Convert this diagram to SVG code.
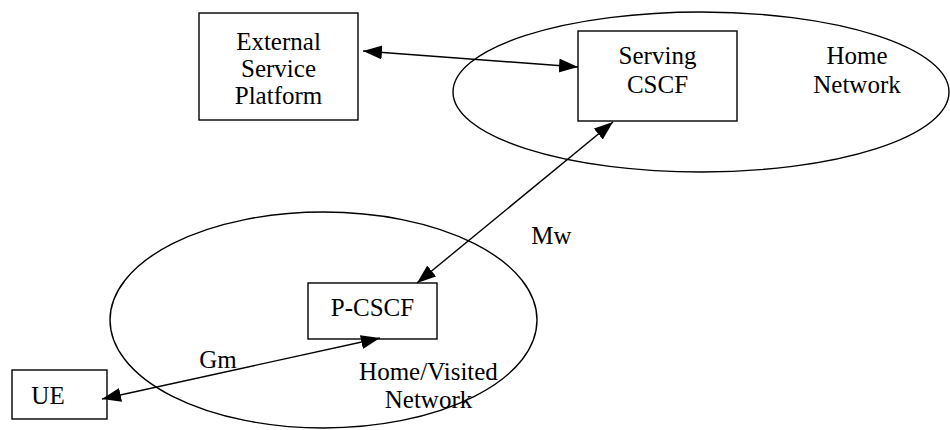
<svg xmlns="http://www.w3.org/2000/svg" width="950" height="430" viewBox="0 0 950 430">
<style>
.t{font-family:"Liberation Serif","Times New Roman",serif;font-size:25px;fill:#000;text-anchor:middle}
.b{fill:#fff;stroke:#000;stroke-width:1.4}
.e{fill:none;stroke:#000;stroke-width:1.4}
.c{stroke:#000;stroke-width:1.4;fill:none;marker-start:url(#ah);marker-end:url(#ah)}
</style>
<defs>
<marker id="ah" markerUnits="userSpaceOnUse" markerWidth="20" markerHeight="15" refX="19" refY="7" orient="auto-start-reverse">
<path d="M0,0 L19,7 L0,14 z" fill="#000"/>
</marker>
</defs>
<g id="home-network">
<ellipse class="e" cx="701" cy="92" rx="248" ry="80"/>
<text class="t" x="857" y="64">Home</text>
<text class="t" x="857" y="93">Network</text>
</g>
<g id="visited-network">
<ellipse class="e" cx="323.5" cy="320" rx="213.5" ry="108"/>
<text class="t" x="428.5" y="380">Home/Visited</text>
<text class="t" x="428.5" y="408">Network</text>
</g>
<g id="external-service-platform">
<rect class="b" x="199" y="13" width="159" height="107"/>
<text class="t" x="278.5" y="50">External</text>
<text class="t" x="278.5" y="77">Service</text>
<text class="t" x="278.5" y="104">Platform</text>
</g>
<g id="serving-cscf">
<rect class="b" x="578" y="31" width="159" height="90"/>
<text class="t" x="657.5" y="64">Serving</text>
<text class="t" x="657.5" y="93">CSCF</text>
</g>
<g id="p-cscf">
<rect class="b" x="308" y="283" width="129" height="56"/>
<text class="t" x="372.5" y="316">P-CSCF</text>
</g>
<g id="ue">
<rect class="b" x="12" y="370" width="95" height="49"/>
<text class="t" x="48" y="404">UE</text>
</g>
<g id="connectors">
<line class="c" x1="363" y1="51" x2="578" y2="67"/>
<line class="c" x1="613" y1="122" x2="417" y2="283"/>
<line class="c" x1="102" y1="399" x2="380" y2="338"/>
<text class="t" x="551.5" y="244">Mw</text>
<text class="t" x="218" y="368">Gm</text>
</g>
</svg>
